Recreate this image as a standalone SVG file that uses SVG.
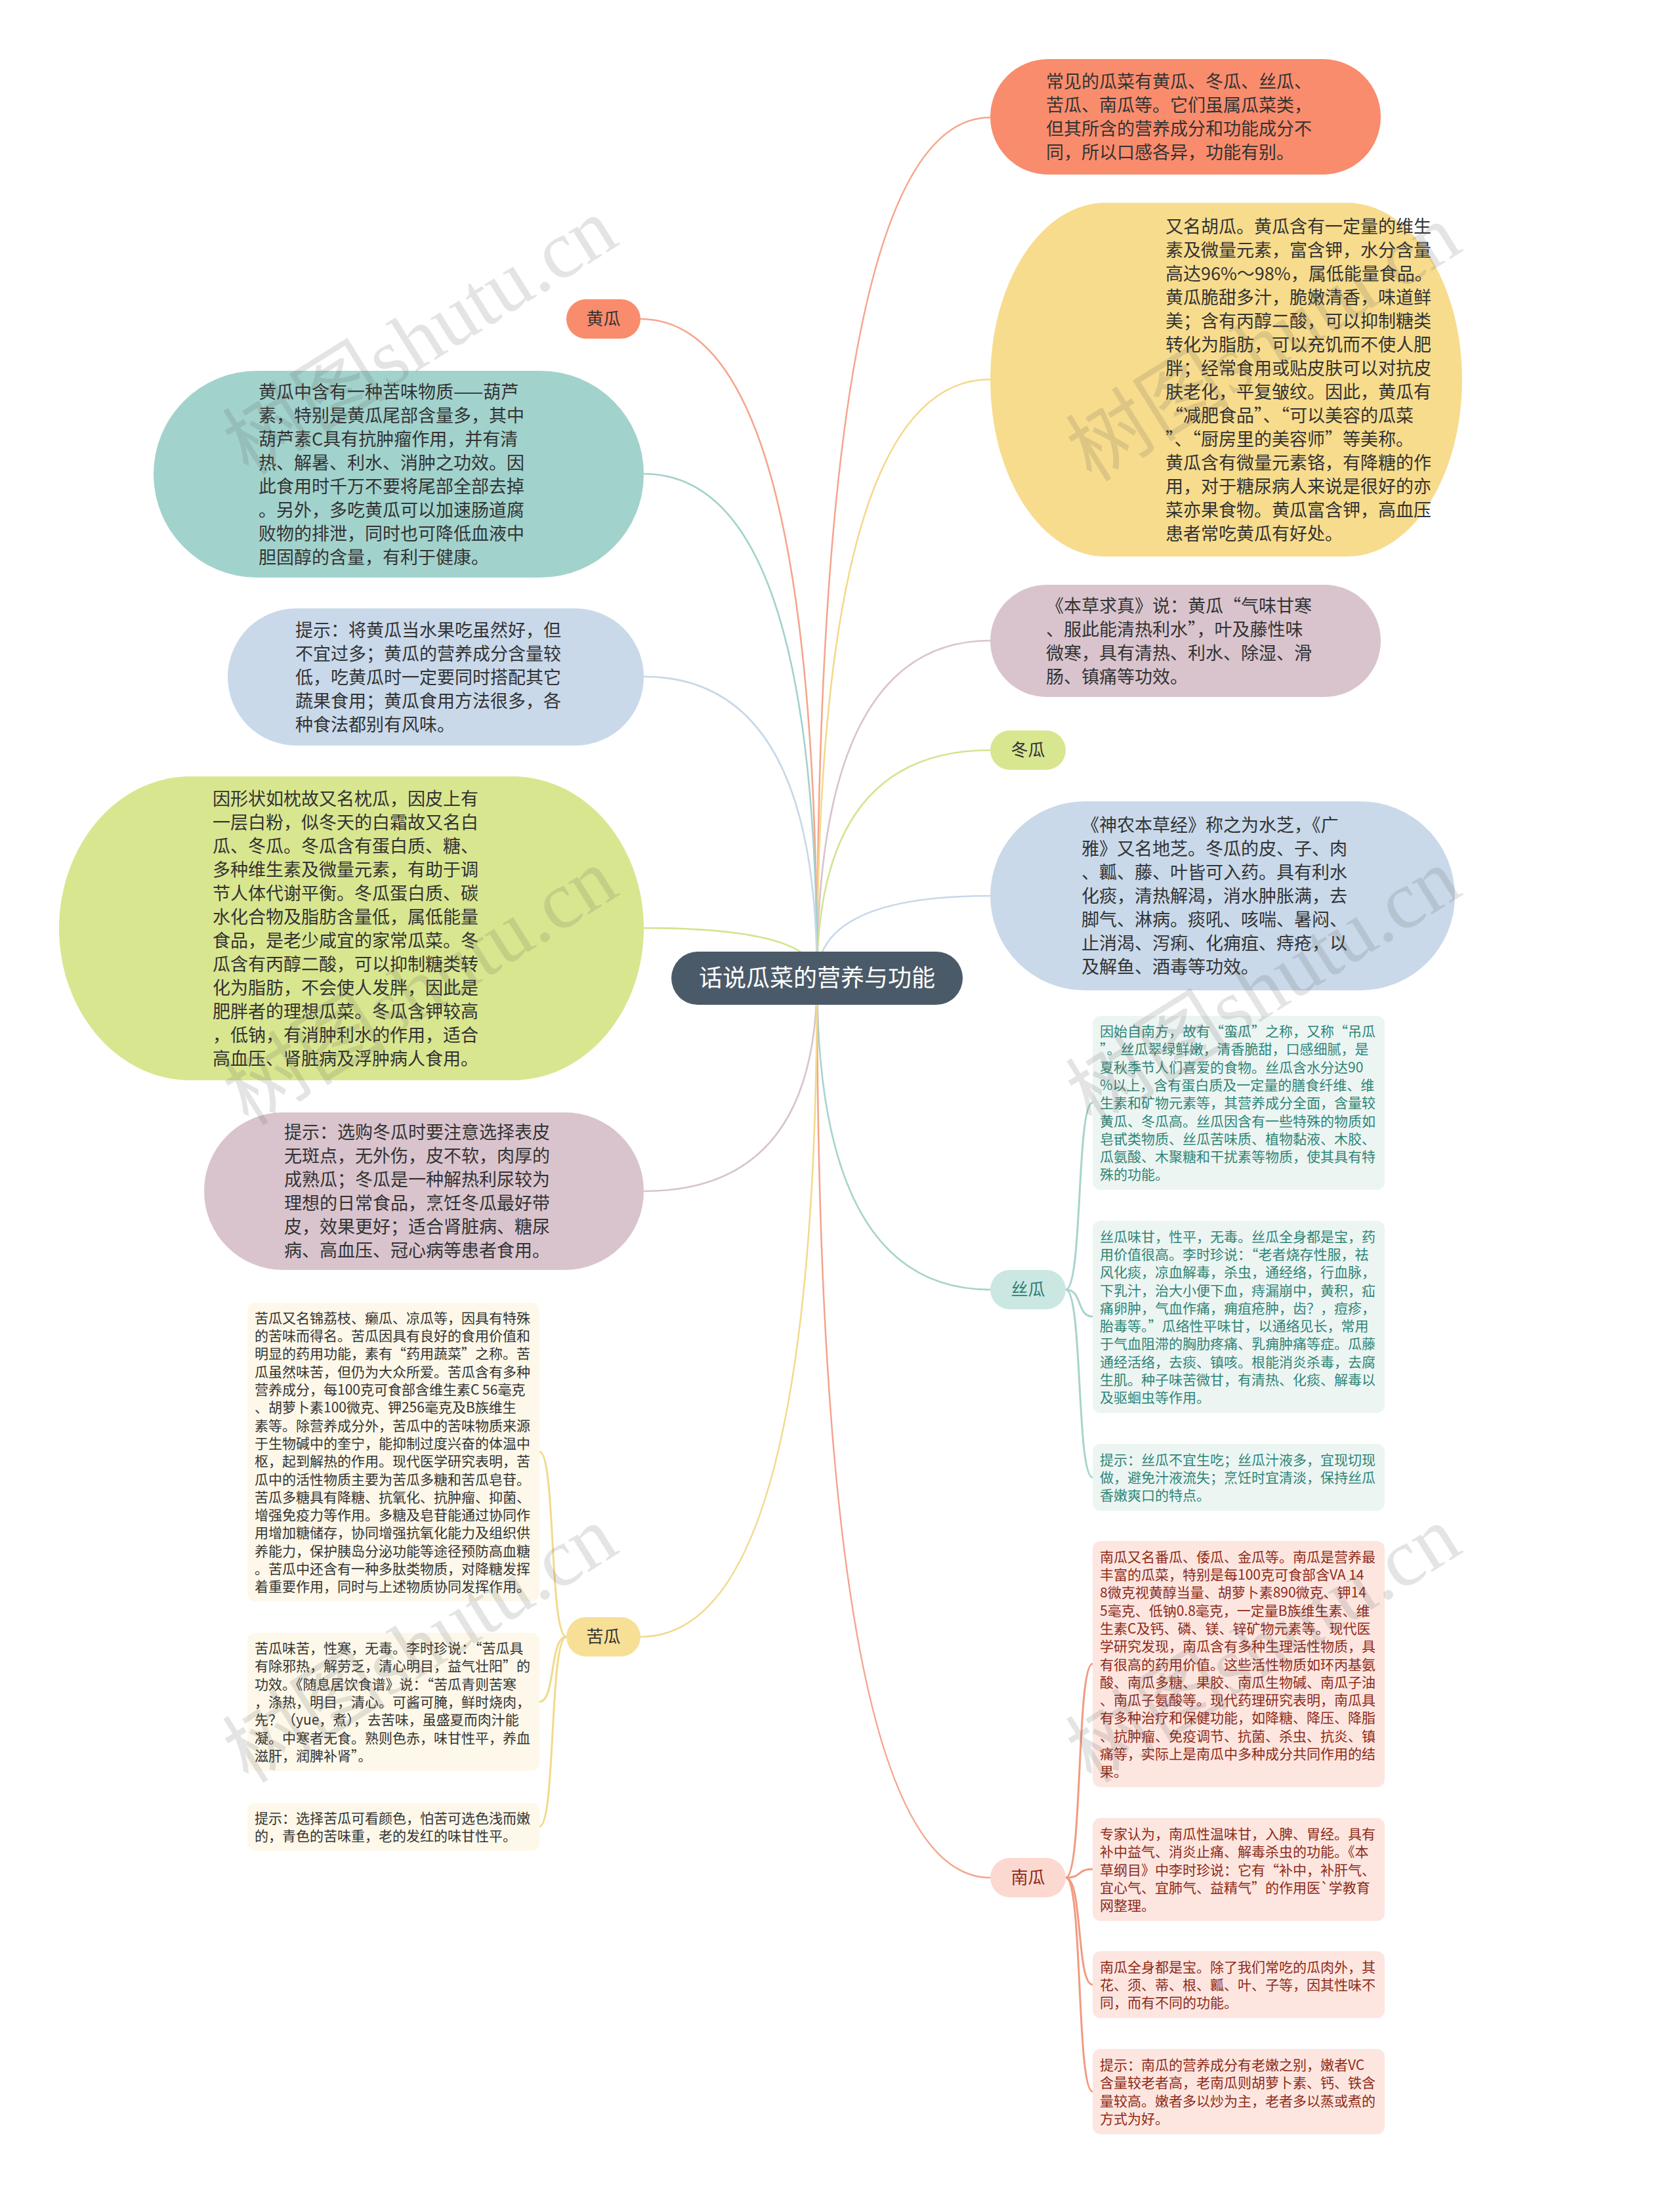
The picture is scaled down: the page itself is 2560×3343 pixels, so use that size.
<svg xmlns="http://www.w3.org/2000/svg" width="2560" height="3343" viewBox="0 0 2560 3343">
<defs>
<style>
.t{font-family:"Noto Sans CJK SC","Noto Sans",sans-serif;font-size:27px;fill:#333}
.s{font-family:"Noto Sans CJK SC","Noto Sans",sans-serif;font-size:21px}
.lb{font-family:"Noto Sans CJK SC","Noto Sans",sans-serif;font-size:26px;text-anchor:middle}
.q{font-feature-settings:"fwid" 1}
.c{fill:none;stroke-width:2.6}
.sc{fill:none;stroke-width:3}
.wm{font-family:"Liberation Serif","Noto Sans CJK SC",serif;font-size:125px;fill:#555;fill-opacity:0.16;text-anchor:middle}
</style>
</defs>
<rect width="2560" height="3343" fill="#ffffff"/>

<g id="connectors">
<path class="c" stroke="#f6a58c" d="M1245,1490 Q1245,179 1509,179"/>
<path class="c" stroke="#f3d98a" d="M1245,1490 Q1245,578 1509,578"/>
<path class="c" stroke="#d9c3cd" d="M1245,1490 Q1245,976 1509,976"/>
<path class="c" stroke="#d3e48e" d="M1245,1490 Q1245,1143 1509,1143"/>
<path class="c" stroke="#c7d8ea" d="M1245,1490 Q1245,1365 1509,1365"/>
<path class="c" stroke="#a7d4cd" d="M1245,1490 Q1245,1965 1509,1965"/>
<path class="c" stroke="#f4a48c" d="M1245,1490 Q1245,2861 1509,2861"/>
<path class="c" stroke="#f6a58c" d="M1245,1490 Q1245,486 976,486"/>
<path class="c" stroke="#a2d2cc" d="M1245,1490 Q1245,722 981,722"/>
<path class="c" stroke="#c7d8ea" d="M1245,1490 Q1245,1031 981,1031"/>
<path class="c" stroke="#d3e48e" d="M1245,1490 Q1245,1414 981,1414"/>
<path class="c" stroke="#d9c3cd" d="M1245,1490 Q1245,1815 981,1815"/>
<path class="c" stroke="#f3d98a" d="M1245,1490 Q1245,2494 976,2494"/>
<path class="sc" stroke="#a7d4cd" d="M1624,1965 C1650,1965 1640,1680 1665,1680"/>
<path class="sc" stroke="#a7d4cd" d="M1624,1965 C1650,1965 1640,2006 1665,2006"/>
<path class="sc" stroke="#a7d4cd" d="M1624,1965 C1650,1965 1640,2251 1665,2251"/>
<path class="sc" stroke="#f29a80" d="M1624,2861 C1650,2861 1640,2535 1665,2535"/>
<path class="sc" stroke="#f29a80" d="M1624,2861 C1650,2861 1640,2848 1665,2848"/>
<path class="sc" stroke="#f29a80" d="M1624,2861 C1650,2861 1640,3024 1665,3024"/>
<path class="sc" stroke="#f29a80" d="M1624,2861 C1650,2861 1640,3187 1665,3187"/>
<path class="sc" stroke="#f3d98a" d="M863,2494 C837,2494 847,2212 822,2212"/>
<path class="sc" stroke="#f3d98a" d="M863,2494 C837,2494 847,2593 822,2593"/>
<path class="sc" stroke="#f3d98a" d="M863,2494 C837,2494 847,2783 822,2783"/>
</g>

<g id="root">
<rect x="1023" y="1450" width="444" height="81" rx="40.5" fill="#4b5a69"/>
<text x="1245" y="1503" font-family="Noto Sans CJK SC,sans-serif" font-size="36" fill="#ffffff" text-anchor="middle">话说瓜菜的营养与功能</text>
</g>

<g id="n-common">
<rect x="1509" y="90" width="595" height="176" rx="88" fill="#f98c6d"/>
<text class="t"><tspan x="1594" y="134">常见的瓜菜有黄瓜、冬瓜、丝瓜、</tspan><tspan x="1594" y="170">苦瓜、南瓜等。它们虽属瓜菜类，</tspan><tspan x="1594" y="206">但其所含的营养成分和功能成分不</tspan><tspan x="1594" y="242">同，所以口感各异，功能有别。</tspan></text>
</g>

<g id="n-huanggua-info">
<rect x="1509" y="309" width="719" height="539" rx="175" ry="269.5" fill="#f7dc8d"/>
<text class="t"><tspan x="1776" y="354.5">又名胡瓜。黄瓜含有一定量的维生</tspan><tspan x="1776" y="390.5">素及微量元素，富含钾，水分含量</tspan><tspan x="1776" y="426.5">高达96%～98%，属低能量食品。</tspan><tspan x="1776" y="462.5">黄瓜脆甜多汁，脆嫩清香，味道鲜</tspan><tspan x="1776" y="498.5">美；含有丙醇二酸，可以抑制糖类</tspan><tspan x="1776" y="534.5">转化为脂肪，可以充饥而不使人肥</tspan><tspan x="1776" y="570.5">胖；经常食用或贴皮肤可以对抗皮</tspan><tspan x="1776" y="606.5">肤老化，平复皱纹。因此，黄瓜有</tspan><tspan x="1776" y="642.5"><tspan class="q">“</tspan>减肥食品<tspan class="q">”</tspan>、<tspan class="q">“</tspan>可以美容的瓜菜</tspan><tspan x="1776" y="678.5"><tspan class="q">”</tspan>、<tspan class="q">“</tspan>厨房里的美容师<tspan class="q">”</tspan>等美称。</tspan><tspan x="1776" y="714.5">黄瓜含有微量元素铬，有降糖的作</tspan><tspan x="1776" y="750.5">用，对于糖尿病人来说是很好的亦</tspan><tspan x="1776" y="786.5">菜亦果食物。黄瓜富含钾，高血压</tspan><tspan x="1776" y="822.5">患者常吃黄瓜有好处。</tspan></text>
</g>

<g id="n-bencao">
<rect x="1509" y="891" width="595" height="171" rx="85.5" fill="#d9c4ce"/>
<text class="t"><tspan x="1594" y="932.5">《本草求真》说：黄瓜<tspan class="q">“</tspan>气味甘寒</tspan><tspan x="1594" y="968.5">、服此能清热利水<tspan class="q">”</tspan>，叶及藤性味</tspan><tspan x="1594" y="1004.5">微寒，具有清热、利水、除湿、滑</tspan><tspan x="1594" y="1040.5">肠、镇痛等功效。</tspan></text>
</g>

<g id="n-donggua">
<rect x="1509" y="1113" width="115" height="60" rx="30" fill="#d9e690"/>
<text class="lb" x="1566.5" y="1152" fill="#333">冬瓜</text>
</g>

<g id="n-shennong">
<rect x="1509" y="1221" width="708" height="288" rx="144" fill="#c9d9ea"/>
<text class="t"><tspan x="1648" y="1267">《神农本草经》称之为水芝，《广</tspan><tspan x="1648" y="1303">雅》又名地芝。冬瓜的皮、子、肉</tspan><tspan x="1648" y="1339">、瓤、藤、叶皆可入药。具有利水</tspan><tspan x="1648" y="1375">化痰，清热解渴，消水肿胀满，去</tspan><tspan x="1648" y="1411">脚气、淋病。痰吼、咳喘、暑闷、</tspan><tspan x="1648" y="1447">止消渴、泻痢、化痈疽、痔疮，以</tspan><tspan x="1648" y="1483">及解鱼、酒毒等功效。</tspan></text>
</g>

<g id="n-sigua">
<rect x="1509" y="1935" width="115" height="60" rx="30" fill="#cbe7e2"/>
<text class="lb" x="1566.5" y="1974" fill="#2f7f73">丝瓜</text>
</g>

<g id="n-sigua-1">
<rect x="1665" y="1548" width="445" height="265" rx="12" fill="#edf5f3"/>
<text class="s" fill="#2e8577"><tspan x="1676" y="1579">因始自南方，故有<tspan class="q">“</tspan>蛮瓜<tspan class="q">”</tspan>之称，又称<tspan class="q">“</tspan>吊瓜</tspan><tspan x="1676" y="1606.3"><tspan class="q">”</tspan>。丝瓜翠绿鲜嫩，清香脆甜，口感细腻，是</tspan><tspan x="1676" y="1633.6">夏秋季节人们喜爱的食物。丝瓜含水分达90</tspan><tspan x="1676" y="1660.9">%以上，含有蛋白质及一定量的膳食纤维、维</tspan><tspan x="1676" y="1688.2">生素和矿物元素等，其营养成分全面，含量较</tspan><tspan x="1676" y="1715.5">黄瓜、冬瓜高。丝瓜因含有一些特殊的物质如</tspan><tspan x="1676" y="1742.8">皂甙类物质、丝瓜苦味质、植物黏液、木胶、</tspan><tspan x="1676" y="1770.1">瓜氨酸、木聚糖和干扰素等物质，使其具有特</tspan><tspan x="1676" y="1797.4">殊的功能。</tspan></text>
</g>

<g id="n-sigua-2">
<rect x="1665" y="1860" width="445" height="293" rx="12" fill="#edf5f3"/>
<text class="s" fill="#2e8577"><tspan x="1676" y="1891.6">丝瓜味甘，性平，无毒。丝瓜全身都是宝，药</tspan><tspan x="1676" y="1918.9">用价值很高。李时珍说：<tspan class="q">“</tspan>老者烧存性服，祛</tspan><tspan x="1676" y="1946.2">风化痰，凉血解毒，杀虫，通经络，行血脉，</tspan><tspan x="1676" y="1973.5">下乳汁，治大小便下血，痔漏崩中，黄积，疝</tspan><tspan x="1676" y="2000.8">痛卵肿，气血作痛，痈疽疮肿，齿？，痘疹，</tspan><tspan x="1676" y="2028.1">胎毒等。<tspan class="q">”</tspan>瓜络性平味甘，以通络见长，常用</tspan><tspan x="1676" y="2055.4">于气血阻滞的胸肋疼痛、乳痈肿痛等症。瓜藤</tspan><tspan x="1676" y="2082.7">通经活络，去痰、镇咳。根能消炎杀毒，去腐</tspan><tspan x="1676" y="2110">生肌。种子味苦微甘，有清热、化痰、解毒以</tspan><tspan x="1676" y="2137.3">及驱蛔虫等作用。</tspan></text>
</g>

<g id="n-sigua-3">
<rect x="1665" y="2200" width="445" height="102" rx="12" fill="#edf5f3"/>
<text class="s" fill="#2e8577"><tspan x="1676" y="2231.7">提示：丝瓜不宜生吃；丝瓜汁液多，宜现切现</tspan><tspan x="1676" y="2259">做，避免汁液流失；烹饪时宜清淡，保持丝瓜</tspan><tspan x="1676" y="2286.3">香嫩爽口的特点。</tspan></text>
</g>

<g id="n-nangua">
<rect x="1509" y="2831" width="115" height="60" rx="30" fill="#fcd9d0"/>
<text class="lb" x="1566.5" y="2870" fill="#8e2a18">南瓜</text>
</g>

<g id="n-nangua-1">
<rect x="1665" y="2348" width="445" height="375" rx="12" fill="#fde6e0"/>
<text class="s" fill="#8e2a18"><tspan x="1676" y="2379.7">南瓜又名番瓜、倭瓜、金瓜等。南瓜是营养最</tspan><tspan x="1676" y="2407">丰富的瓜菜，特别是每100克可食部含VA 14</tspan><tspan x="1676" y="2434.3">8微克视黄醇当量、胡萝卜素890微克、钾14</tspan><tspan x="1676" y="2461.6">5毫克、低钠0.8毫克，一定量B族维生素、维</tspan><tspan x="1676" y="2488.9">生素C及钙、磷、镁、锌矿物元素等。现代医</tspan><tspan x="1676" y="2516.2">学研究发现，南瓜含有多种生理活性物质，具</tspan><tspan x="1676" y="2543.5">有很高的药用价值。这些活性物质如环丙基氨</tspan><tspan x="1676" y="2570.8">酸、南瓜多糖、果胶、南瓜生物碱、南瓜子油</tspan><tspan x="1676" y="2598.1">、南瓜子氨酸等。现代药理研究表明，南瓜具</tspan><tspan x="1676" y="2625.4">有多种治疗和保健功能，如降糖、降压、降脂</tspan><tspan x="1676" y="2652.7">、抗肿瘤、免疫调节、抗菌、杀虫、抗炎、镇</tspan><tspan x="1676" y="2680">痛等，实际上是南瓜中多种成分共同作用的结</tspan><tspan x="1676" y="2707.3">果。</tspan></text>
</g>

<g id="n-nangua-2">
<rect x="1665" y="2770" width="445" height="157" rx="12" fill="#fde6e0"/>
<text class="s" fill="#8e2a18"><tspan x="1676" y="2802">专家认为，南瓜性温味甘，入脾、胃经。具有</tspan><tspan x="1676" y="2829.3">补中益气、消炎止痛、解毒杀虫的功能。《本</tspan><tspan x="1676" y="2856.6">草纲目》中李时珍说：它有<tspan class="q">“</tspan>补中，补肝气、</tspan><tspan x="1676" y="2883.9">宜心气、宜肺气、益精气<tspan class="q">”</tspan>的作用医`学教育</tspan><tspan x="1676" y="2911.2">网整理。</tspan></text>
</g>

<g id="n-nangua-3">
<rect x="1665" y="2973" width="445" height="102" rx="12" fill="#fde6e0"/>
<text class="s" fill="#8e2a18"><tspan x="1676" y="3004.7">南瓜全身都是宝。除了我们常吃的瓜肉外，其</tspan><tspan x="1676" y="3032">花、须、蒂、根、瓤、叶、子等，因其性味不</tspan><tspan x="1676" y="3059.3">同，而有不同的功能。</tspan></text>
</g>

<g id="n-nangua-4">
<rect x="1665" y="3122" width="445" height="130" rx="12" fill="#fde6e0"/>
<text class="s" fill="#8e2a18"><tspan x="1676" y="3154">提示：南瓜的营养成分有老嫩之别，嫩者VC</tspan><tspan x="1676" y="3181.3">含量较老者高，老南瓜则胡萝卜素、钙、铁含</tspan><tspan x="1676" y="3208.6">量较高。嫩者多以炒为主，老者多以蒸或煮的</tspan><tspan x="1676" y="3235.9">方式为好。</tspan></text>
</g>

<g id="n-huanggua">
<rect x="863" y="456" width="113" height="60" rx="30" fill="#f98c6d"/>
<text class="lb" x="919.5" y="495" fill="#333">黄瓜</text>
</g>

<g id="n-huanggua-bitter">
<rect x="234" y="565" width="747" height="315" rx="157.5" fill="#a2d2cc"/>
<text class="t"><tspan x="394" y="606.5">黄瓜中含有一种苦味物质——葫芦</tspan><tspan x="394" y="642.5">素，特别是黄瓜尾部含量多，其中</tspan><tspan x="394" y="678.5">葫芦素C具有抗肿瘤作用，并有清</tspan><tspan x="394" y="714.5">热、解暑、利水、消肿之功效。因</tspan><tspan x="394" y="750.5">此食用时千万不要将尾部全部去掉</tspan><tspan x="394" y="786.5">。另外，多吃黄瓜可以加速肠道腐</tspan><tspan x="394" y="822.5">败物的排泄，同时也可降低血液中</tspan><tspan x="394" y="858.5">胆固醇的含量，有利于健康。</tspan></text>
</g>

<g id="n-huanggua-tip">
<rect x="347" y="927" width="634" height="209" rx="104.5" fill="#c9d9ea"/>
<text class="t"><tspan x="450" y="969.5">提示：将黄瓜当水果吃虽然好，但</tspan><tspan x="450" y="1005.5">不宜过多；黄瓜的营养成分含量较</tspan><tspan x="450" y="1041.5">低，吃黄瓜时一定要同时搭配其它</tspan><tspan x="450" y="1077.5">蔬果食用；黄瓜食用方法很多，各</tspan><tspan x="450" y="1113.5">种食法都别有风味。</tspan></text>
</g>

<g id="n-donggua-info">
<rect x="90" y="1183" width="891" height="463" rx="200" ry="231.5" fill="#d9e690"/>
<text class="t"><tspan x="324" y="1226.5">因形状如枕故又名枕瓜，因皮上有</tspan><tspan x="324" y="1262.5">一层白粉，似冬天的白霜故又名白</tspan><tspan x="324" y="1298.5">瓜、冬瓜。冬瓜含有蛋白质、糖、</tspan><tspan x="324" y="1334.5">多种维生素及微量元素，有助于调</tspan><tspan x="324" y="1370.5">节人体代谢平衡。冬瓜蛋白质、碳</tspan><tspan x="324" y="1406.5">水化合物及脂肪含量低，属低能量</tspan><tspan x="324" y="1442.5">食品，是老少咸宜的家常瓜菜。冬</tspan><tspan x="324" y="1478.5">瓜含有丙醇二酸，可以抑制糖类转</tspan><tspan x="324" y="1514.5">化为脂肪，不会使人发胖，因此是</tspan><tspan x="324" y="1550.5">肥胖者的理想瓜菜。冬瓜含钾较高</tspan><tspan x="324" y="1586.5">，低钠，有消肿利水的作用，适合</tspan><tspan x="324" y="1622.5">高血压、肾脏病及浮肿病人食用。</tspan></text>
</g>

<g id="n-donggua-tip">
<rect x="311" y="1695" width="670" height="240" rx="120" fill="#d9c4ce"/>
<text class="t"><tspan x="433" y="1735">提示：选购冬瓜时要注意选择表皮</tspan><tspan x="433" y="1771">无斑点，无外伤，皮不软，肉厚的</tspan><tspan x="433" y="1807">成熟瓜；冬瓜是一种解热利尿较为</tspan><tspan x="433" y="1843">理想的日常食品，烹饪冬瓜最好带</tspan><tspan x="433" y="1879">皮，效果更好；适合肾脏病、糖尿</tspan><tspan x="433" y="1915">病、高血压、冠心病等患者食用。</tspan></text>
</g>

<g id="n-kugua">
<rect x="863" y="2464" width="113" height="60" rx="30" fill="#f8df96"/>
<text class="lb" x="919.5" y="2503" fill="#333">苦瓜</text>
</g>

<g id="n-kugua-1">
<rect x="377" y="1985" width="445" height="455" rx="12" fill="#fdf8e9"/>
<text class="s" fill="#333"><tspan x="388" y="2015.8">苦瓜又名锦荔枝、癞瓜、凉瓜等，因具有特殊</tspan><tspan x="388" y="2043.1">的苦味而得名。苦瓜因具有良好的食用价值和</tspan><tspan x="388" y="2070.4">明显的药用功能，素有<tspan class="q">“</tspan>药用蔬菜<tspan class="q">”</tspan>之称。苦</tspan><tspan x="388" y="2097.7">瓜虽然味苦，但仍为大众所爱。苦瓜含有多种</tspan><tspan x="388" y="2125">营养成分，每100克可食部含维生素C 56毫克</tspan><tspan x="388" y="2152.3">、胡萝卜素100微克、钾256毫克及B族维生</tspan><tspan x="388" y="2179.6">素等。除营养成分外，苦瓜中的苦味物质来源</tspan><tspan x="388" y="2206.9">于生物碱中的奎宁，能抑制过度兴奋的体温中</tspan><tspan x="388" y="2234.2">枢，起到解热的作用。现代医学研究表明，苦</tspan><tspan x="388" y="2261.5">瓜中的活性物质主要为苦瓜多糖和苦瓜皂苷。</tspan><tspan x="388" y="2288.8">苦瓜多糖具有降糖、抗氧化、抗肿瘤、抑菌、</tspan><tspan x="388" y="2316.1">增强免疫力等作用。多糖及皂苷能通过协同作</tspan><tspan x="388" y="2343.4">用增加糖储存，协同增强抗氧化能力及组织供</tspan><tspan x="388" y="2370.7">养能力，保护胰岛分泌功能等途径预防高血糖</tspan><tspan x="388" y="2398">。苦瓜中还含有一种多肽类物质，对降糖发挥</tspan><tspan x="388" y="2425.3">着重要作用，同时与上述物质协同发挥作用。</tspan></text>
</g>

<g id="n-kugua-2">
<rect x="377" y="2488" width="445" height="210" rx="12" fill="#fdf8e9"/>
<text class="s" fill="#333"><tspan x="388" y="2519.1">苦瓜味苦，性寒，无毒。李时珍说：<tspan class="q">“</tspan>苦瓜具</tspan><tspan x="388" y="2546.4">有除邪热，解劳乏，清心明目，益气壮阳<tspan class="q">”</tspan>的</tspan><tspan x="388" y="2573.7">功效。《随息居饮食谱》说：<tspan class="q">“</tspan>苦瓜青则苦寒</tspan><tspan x="388" y="2601">，涤热，明目，清心。可酱可腌，鲜时烧肉，</tspan><tspan x="388" y="2628.3">先？（yue，煮），去苦味，虽盛夏而肉汁能</tspan><tspan x="388" y="2655.6">凝。中寒者无食。熟则色赤，味甘性平，养血</tspan><tspan x="388" y="2682.9">滋肝，润脾补肾<tspan class="q">”</tspan>。</tspan></text>
</g>

<g id="n-kugua-3">
<rect x="377" y="2747" width="445" height="73" rx="12" fill="#fdf8e9"/>
<text class="s" fill="#333"><tspan x="388" y="2777.9">提示：选择苦瓜可看颜色，怕苦可选色浅而嫩</tspan><tspan x="388" y="2805.2">的，青色的苦味重，老的发红的味甘性平。</tspan></text>
</g>

<g id="watermarks">
<text class="wm" x="640" y="555" transform="rotate(-32 640 512)">树图shutu.cn</text>
<text class="wm" x="1925" y="565" transform="rotate(-32 1925 522)">树图shutu.cn</text>
<text class="wm" x="640" y="1546" transform="rotate(-32 640 1503)">树图shutu.cn</text>
<text class="wm" x="1925" y="1546" transform="rotate(-32 1925 1503)">树图shutu.cn</text>
<text class="wm" x="640" y="2548" transform="rotate(-32 640 2505)">树图shutu.cn</text>
<text class="wm" x="1925" y="2548" transform="rotate(-32 1925 2505)">树图shutu.cn</text>
</g>
</svg>
